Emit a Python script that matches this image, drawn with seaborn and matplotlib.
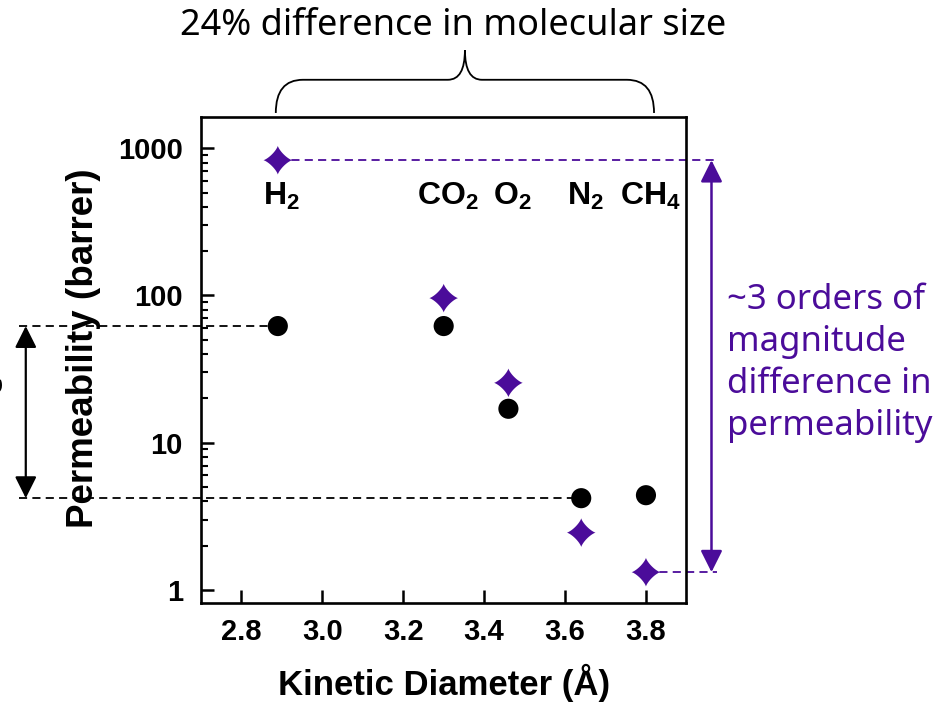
import numpy as np
import matplotlib
matplotlib.use('Agg')
import matplotlib.pyplot as plt
from matplotlib.path import Path
from matplotlib.patches import PathPatch
from matplotlib import transforms
from matplotlib.ticker import FixedLocator
import seaborn as sns

# gas data (kinetic diameter in Angstrom, permeability in barrer)
gases = ['H2', 'CO2', 'O2', 'N2', 'CH4']
gas_labels = [r'H$_\mathbf{2}$', r'CO$_\mathbf{2}$', r'O$_\mathbf{2}$', r'N$_\mathbf{2}$', r'CH$_\mathbf{4}$']
kinetic_diameter = [2.89, 3.30, 3.46, 3.64, 3.80]
perm_circle = [62, 62, 17, 4.2, 4.4]
perm_star = [830, 96, 25.5, 2.45, 1.32]
label_y = 475

x_ticks = [2.8, 3.0, 3.2, 3.4, 3.6, 3.8]
x_tick_labels = ['2.8', '3.0', '3.2', '3.4', '3.6', '3.8']
y_ticks = [1, 10, 100, 1000]
y_tick_labels = ['1', '10', '100', '1000']

purple = '#4b0c9a'

sns.set_theme(style='white')
plt.rcParams['font.family'] = ['Liberation Sans', 'DejaVu Sans']
plt.rcParams['font.weight'] = 'bold'
plt.rcParams['mathtext.fontset'] = 'custom'
plt.rcParams['mathtext.bf'] = 'Liberation Sans:bold'
plt.rcParams['mathtext.rm'] = 'Liberation Sans:bold'

fig = plt.figure(figsize=(9.39, 7.06), dpi=100)
ax = fig.add_axes([0.214, 0.146, 0.517, 0.688])

# concave four-point star marker
t = np.linspace(0, 2 * np.pi, 121)
c, s = np.cos(t), np.sin(t)
p = 2.6
star = np.column_stack([np.sign(c) * np.abs(c) ** p, np.sign(s) * np.abs(s) ** p])

sns.scatterplot(x=kinetic_diameter, y=perm_circle, color='black', s=210,
                edgecolor='none', ax=ax, zorder=3)
sns.scatterplot(x=kinetic_diameter, y=perm_star, marker=star, color=purple, s=430,
                edgecolor='none', ax=ax, zorder=3)

ax.set_yscale('log')
ax.set_xlim(2.7, 3.9)
ax.set_ylim(0.816, 1626)
ax.set_xticks(x_ticks)
ax.set_xticklabels(x_tick_labels)
ax.set_yticks(y_ticks)
ax.set_yticklabels(y_tick_labels)
ax.yaxis.set_minor_locator(FixedLocator([m * 10 ** e for e in range(3) for m in range(2, 10)]))
ax.xaxis.set_minor_locator(FixedLocator([]))

for sp in ax.spines.values():
    sp.set_visible(True)
    sp.set_color('black')
    sp.set_linewidth(1.9)

ax.tick_params(axis='both', which='major', direction='in', length=9.5, width=1.8,
               labelsize=21, colors='black', top=False, right=False, left=True, bottom=True)
ax.tick_params(axis='x', pad=11)
ax.tick_params(axis='y', pad=13)
ax.tick_params(axis='y', which='minor', direction='in', length=5, width=1.5,
               color='black', left=True, right=False)

ax.set_xlabel('Kinetic Diameter (Å)', fontsize=25, fontweight='bold', color='black')
ax.set_ylabel('Permeability (barrer)', fontsize=26.5, fontweight='bold', color='black')
ax.xaxis.set_label_coords(0.5, -0.125)
ax.yaxis.set_label_coords(-0.205, 0.525)

for xd, lab in zip(kinetic_diameter, gas_labels):
    ax.text(xd + 0.01, label_y, lab, fontsize=23, fontweight='bold', color='black',
            ha='center', va='center')

# black guide lines and arrow on the left
x_left = 2.25
ax.plot([x_left, kinetic_diameter[0]], [perm_circle[0], perm_circle[0]], color='black',
        lw=1.3, ls=(0, (4.5, 2.9)), clip_on=False, zorder=2)
ax.plot([x_left, kinetic_diameter[3]], [perm_circle[3], perm_circle[3]], color='black',
        lw=1.3, ls=(0, (4.5, 2.9)), clip_on=False, zorder=2)
ax.annotate('', xy=(2.267, perm_circle[3]), xytext=(2.267, perm_circle[0]),
            arrowprops=dict(arrowstyle='<|-|>,head_length=0.6,head_width=0.3', color='black',
                            lw=1.6, mutation_scale=22, shrinkA=0, shrinkB=0),
            annotation_clip=False)

# purple guide lines and arrow on the right
x_right = 3.975
ax.plot([kinetic_diameter[0], x_right], [perm_star[0], perm_star[0]], color=purple,
        lw=1.3, ls=(0, (4.5, 2.9)), clip_on=False, zorder=2)
ax.plot([kinetic_diameter[4], x_right], [perm_star[4], perm_star[4]], color=purple,
        lw=1.3, ls=(0, (4.5, 2.9)), clip_on=False, zorder=2)
ax.annotate('', xy=(3.962, perm_star[4]), xytext=(3.962, perm_star[0]),
            arrowprops=dict(arrowstyle='<|-|>,head_length=0.6,head_width=0.3', color=purple,
                            lw=1.8, mutation_scale=22, shrinkA=0, shrinkB=0),
            annotation_clip=False)
fig.text(0.774, 0.486, '~3 orders of\nmagnitude\ndifference in\npermeability',
         family='Noto Sans', fontweight='normal', fontsize=25, color=purple,
         ha='left', va='center', linespacing=1.3)

# curly brace over the size range
trans = transforms.blended_transform_factory(ax.transData, fig.transFigure)
x0, x1 = kinetic_diameter[0] - 0.005, 3.82
xm = (x0 + x1) / 2
yb, yh, yt = 0.840, 0.887, 0.929
r, r2 = 0.067, 0.042
verts = [(x0, yb), (x0, yh), (x0 + r, yh), (xm - r2, yh), (xm, yh), (xm, yt),
         (xm, yh), (xm + r2, yh), (x1 - r, yh), (x1, yh), (x1, yb)]
codes = [Path.MOVETO, Path.CURVE3, Path.CURVE3, Path.LINETO, Path.CURVE3, Path.CURVE3,
         Path.CURVE3, Path.CURVE3, Path.LINETO, Path.CURVE3, Path.CURVE3]
brace = PathPatch(Path(verts, codes), transform=trans, fill=False, edgecolor='black',
                  lw=1.3, clip_on=False)
ax.add_patch(brace)
ax.text(xm - 0.03, 0.963, '24% difference in molecular size', transform=trans,
        family='Noto Sans', fontweight='normal', fontsize=26, color='black',
        ha='center', va='center')

# cut-off label at the far left edge
fig.text(-0.008, 0.455, 'e', rotation=90, family='Noto Sans', fontweight='normal',
         fontsize=24, color='black', ha='center', va='center')

fig.savefig('out.png', dpi=100)
